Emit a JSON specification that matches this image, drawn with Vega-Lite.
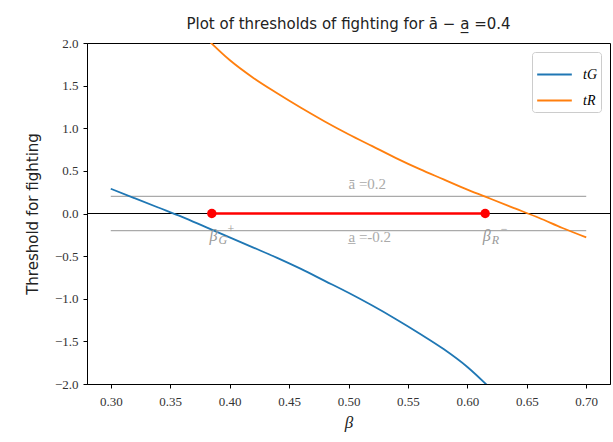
{
  "$schema": "https://vega.github.io/schema/vega-lite/v6.json",
  "width": 523,
  "height": 341,
  "autosize": {"type": "none"},
  "padding": {"left": 87, "top": 43, "right": 3, "bottom": 58},
  "background": "white",
  "title": {"text": "Plot of thresholds of fighting for ā − a̲ =0.4", "font": "DejaVu Sans", "fontSize": 15, "fontWeight": "normal", "color": "#222", "offset": 5},
  "config": {
    "view": {"stroke": "black", "strokeWidth": 1},
    "axis": {"grid": false, "domainColor": "black", "tickColor": "black", "labelFont": "Liberation Serif", "labelFontSize": 13, "labelColor": "#333", "tickSize": 4, "titleFontWeight": "normal", "titleColor": "#222"}
  },
  "datasets": {
    "curves": [
      {"beta": 0.30, "t": 0.29, "series": "tG"},
      {"beta": 0.32, "t": 0.18, "series": "tG"},
      {"beta": 0.34, "t": 0.07, "series": "tG"},
      {"beta": 0.36, "t": -0.04, "series": "tG"},
      {"beta": 0.38, "t": -0.16, "series": "tG"},
      {"beta": 0.40, "t": -0.28, "series": "tG"},
      {"beta": 0.42, "t": -0.40, "series": "tG"},
      {"beta": 0.44, "t": -0.52, "series": "tG"},
      {"beta": 0.46, "t": -0.65, "series": "tG"},
      {"beta": 0.48, "t": -0.79, "series": "tG"},
      {"beta": 0.50, "t": -0.93, "series": "tG"},
      {"beta": 0.52, "t": -1.08, "series": "tG"},
      {"beta": 0.54, "t": -1.24, "series": "tG"},
      {"beta": 0.56, "t": -1.41, "series": "tG"},
      {"beta": 0.58, "t": -1.59, "series": "tG"},
      {"beta": 0.60, "t": -1.80, "series": "tG"},
      {"beta": 0.62, "t": -2.06, "series": "tG"},
      {"beta": 0.38, "t": 2.06, "series": "tR"},
      {"beta": 0.40, "t": 1.80, "series": "tR"},
      {"beta": 0.42, "t": 1.59, "series": "tR"},
      {"beta": 0.44, "t": 1.41, "series": "tR"},
      {"beta": 0.46, "t": 1.24, "series": "tR"},
      {"beta": 0.48, "t": 1.08, "series": "tR"},
      {"beta": 0.50, "t": 0.93, "series": "tR"},
      {"beta": 0.52, "t": 0.79, "series": "tR"},
      {"beta": 0.54, "t": 0.65, "series": "tR"},
      {"beta": 0.56, "t": 0.52, "series": "tR"},
      {"beta": 0.58, "t": 0.40, "series": "tR"},
      {"beta": 0.60, "t": 0.28, "series": "tR"},
      {"beta": 0.62, "t": 0.17, "series": "tR"},
      {"beta": 0.64, "t": 0.06, "series": "tR"},
      {"beta": 0.66, "t": -0.05, "series": "tR"},
      {"beta": 0.68, "t": -0.17, "series": "tR"},
      {"beta": 0.70, "t": -0.28, "series": "tR"}
    ],
    "hlines": [
      {"x1": 0.3, "x2": 0.7, "y": 0.2},
      {"x1": 0.3, "x2": 0.7, "y": -0.2}
    ],
    "zero": [{"y": 0}],
    "seg": [{"x1": 0.385, "x2": 0.615, "y": 0}],
    "dots": [{"x": 0.385, "y": 0}, {"x": 0.615, "y": 0}],
    "gray": [
      {"x": 0.5, "y": 0.29, "text": "ā =0.2"},
      {"x": 0.5, "y": -0.33, "text": "a̲ =-0.2"}
    ],
    "betas": [
      {"x": 0.383, "y": -0.32, "sub": "G", "sup": "+"},
      {"x": 0.613, "y": -0.32, "sub": "R", "sup": "−"}
    ]
  },
  "layer": [
    {
      "data": {"name": "zero"},
      "mark": {"type": "rule", "color": "black", "strokeWidth": 1.2},
      "encoding": {"y": {"field": "y", "type": "quantitative", "scale": {"domain": [-2, 2]}}}
    },
    {
      "data": {"name": "hlines"},
      "mark": {"type": "rule", "color": "#aaaaaa", "strokeWidth": 1.2},
      "encoding": {
        "x": {"field": "x1", "type": "quantitative"},
        "x2": {"field": "x2"},
        "y": {"field": "y", "type": "quantitative"}
      }
    },
    {
      "data": {"name": "curves"},
      "mark": {"type": "line", "strokeWidth": 1.8, "clip": true, "interpolate": "monotone"},
      "encoding": {
        "x": {"field": "beta", "type": "quantitative", "scale": {"domain": [0.28, 0.72], "nice": false, "zero": false},
          "axis": {"values": [0.3, 0.35, 0.4, 0.45, 0.5, 0.55, 0.6, 0.65, 0.7], "format": ".2f", "labelPadding": 7, "title": "β", "titleFont": "Liberation Serif", "titleFontStyle": "italic", "titleFontSize": 17, "titlePadding": 6}},
        "y": {"field": "t", "type": "quantitative", "scale": {"domain": [-2, 2], "nice": false},
          "axis": {"values": [-2, -1.5, -1, -0.5, 0, 0.5, 1, 1.5, 2], "format": ".1f", "labelPadding": 5, "labelExpr": "replace(datum.label, '-', '−')", "title": "Threshold for fighting", "titleFont": "DejaVu Sans", "titleFontSize": 15, "titlePadding": 14}},
        "color": {"field": "series", "type": "nominal", "scale": {"domain": ["tG", "tR"], "range": ["#1f77b4", "#ff7f0e"]},
          "legend": {"title": null, "orient": "top-right", "offset": 9, "symbolType": "stroke", "symbolSize": 1200, "symbolStrokeWidth": 2, "labelFont": "Liberation Serif", "labelFontStyle": "italic", "labelFontSize": 14, "strokeColor": "#cccccc", "fillColor": "white", "cornerRadius": 3, "padding": 4, "rowPadding": 0, "labelOffset": 10}}
      }
    },
    {
      "data": {"name": "seg"},
      "mark": {"type": "rule", "color": "#ff0000", "strokeWidth": 2.5},
      "encoding": {
        "x": {"field": "x1", "type": "quantitative"},
        "x2": {"field": "x2"},
        "y": {"field": "y", "type": "quantitative"}
      }
    },
    {
      "data": {"name": "dots"},
      "mark": {"type": "circle", "color": "#ff0000", "size": 90, "opacity": 1},
      "encoding": {
        "x": {"field": "x", "type": "quantitative"},
        "y": {"field": "y", "type": "quantitative"}
      }
    },
    {
      "data": {"name": "gray"},
      "mark": {"type": "text", "align": "left", "baseline": "alphabetic", "color": "#aaaaaa", "font": "Liberation Serif", "fontSize": 15},
      "encoding": {
        "x": {"field": "x", "type": "quantitative"},
        "y": {"field": "y", "type": "quantitative"},
        "text": {"field": "text"}
      }
    },
    {
      "data": {"name": "betas"},
      "mark": {"type": "text", "align": "left", "baseline": "alphabetic", "color": "#999999", "font": "Liberation Serif", "fontStyle": "italic", "fontSize": 16},
      "encoding": {
        "x": {"field": "x", "type": "quantitative"},
        "y": {"field": "y", "type": "quantitative"},
        "text": {"value": "β"}
      }
    },
    {
      "data": {"name": "betas"},
      "mark": {"type": "text", "align": "left", "baseline": "alphabetic", "color": "#999999", "font": "Liberation Serif", "fontStyle": "italic", "fontSize": 12, "dx": 9, "dy": 3},
      "encoding": {
        "x": {"field": "x", "type": "quantitative"},
        "y": {"field": "y", "type": "quantitative"},
        "text": {"field": "sub"}
      }
    },
    {
      "data": {"name": "betas"},
      "mark": {"type": "text", "align": "left", "baseline": "alphabetic", "color": "#999999", "font": "Liberation Serif", "fontSize": 12, "dx": 18, "dy": -8},
      "encoding": {
        "x": {"field": "x", "type": "quantitative"},
        "y": {"field": "y", "type": "quantitative"},
        "text": {"field": "sup"}
      }
    }
  ]
}
